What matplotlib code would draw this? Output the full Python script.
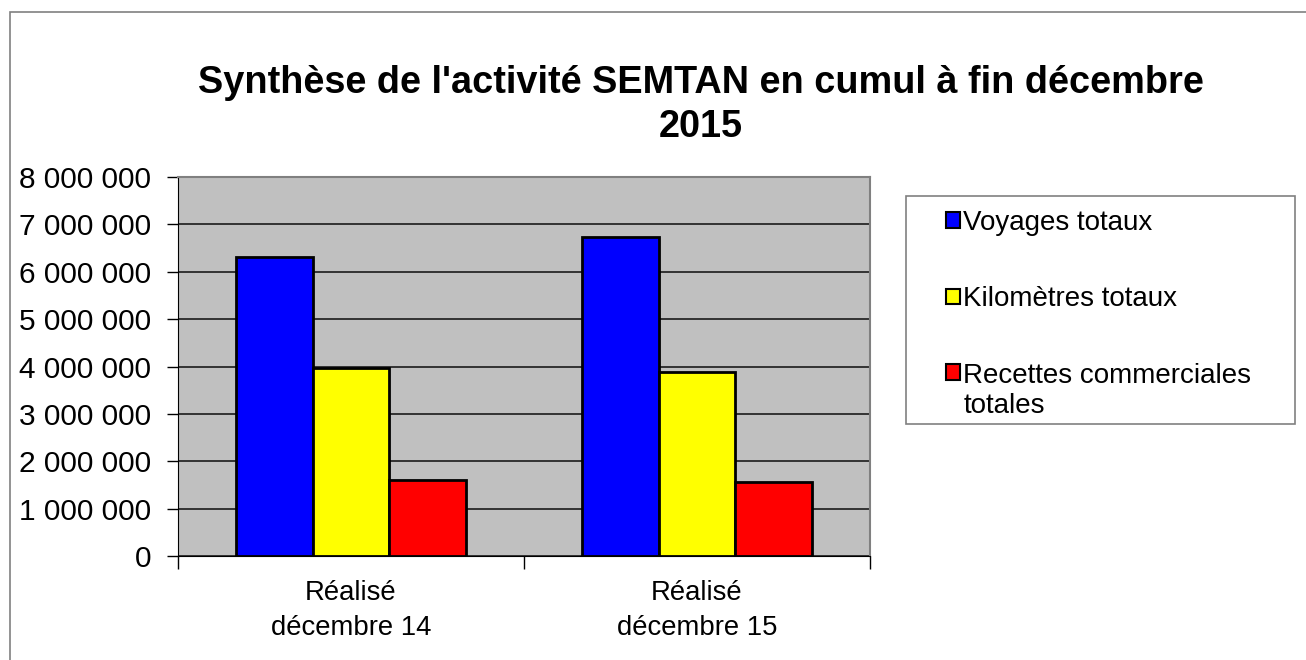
import matplotlib.pyplot as plt
import numpy as np
from matplotlib.patches import Rectangle
from matplotlib.legend_handler import HandlerPatch
from matplotlib.ticker import FuncFormatter

plt.rcParams["font.family"] = ["Liberation Sans", "DejaVu Sans"]

categories = ["Réalisé\ndécembre 14", "Réalisé\ndécembre 15"]
series_names = ["Voyages totaux", "Kilomètres totaux", "Recettes commerciales\ntotales"]
voyages = [6320000, 6730000]
kilometres = [3960000, 3890000]
recettes = [1600000, 1555000]
series_colors = ["#0000FF", "#FFFF00", "#FF0000"]

W, H = 1306, 660
fig = plt.figure(figsize=(W / 100, H / 100), dpi=100)

# outer chart frame (clipped on right/bottom like the original)
fig.patches.append(Rectangle((10 / W, -0.1), 1.2, 1 - 12 / H + 0.1,
                             transform=fig.transFigure, fill=False,
                             edgecolor="#808080", linewidth=1.2))
# legend frame
fig.patches.append(Rectangle((906 / W, 1 - 424 / H), (1295 - 906) / W, (424 - 196) / H,
                             transform=fig.transFigure, fill=False,
                             edgecolor="#808080", linewidth=1.2))

ax = fig.add_axes([178 / W, 1 - 556 / H, (870 - 178) / W, (556 - 177) / H])
ax.set_facecolor("#C0C0C0")

x = np.arange(len(categories))
width = 0.667 / 3
bars = []
for i, (vals, name, col) in enumerate(zip([voyages, kilometres, recettes],
                                          series_names, series_colors)):
    bars.append(ax.bar(x + (i - 1) * width, vals, width, color=col, edgecolor="black",
                       linewidth=2, label=name, zorder=3))

ax.set_xlim(-0.5, 1.5)
ax.set_ylim(0, 8000000)
ax.set_yticks(np.arange(0, 8000001, 1000000))
ax.yaxis.set_major_formatter(FuncFormatter(lambda v, p: f"{int(v):,}".replace(",", " ")))
ax.grid(axis="y", color="#333333", linewidth=1.4, zorder=1)

ax.set_xticks([-0.5, 0.5, 1.5])
ax.set_xticklabels([])
ax.set_xticks(x, minor=True)
ax.set_xticklabels(categories, minor=True, fontsize=19.8, linespacing=1.47)
ax.tick_params(axis="x", which="minor", length=0, pad=17)
ax.tick_params(axis="x", which="major", length=9, width=1, color="black")
ax.tick_params(axis="y", length=8, width=1, labelsize=21.5, pad=11.5)

for s in ["top", "right"]:
    ax.spines[s].set_color("#808080")
    ax.spines[s].set_linewidth(1.5)
ax.spines["left"].set_color("black")
ax.spines["bottom"].set_color("black")

fig.text(701 / W, 1 - 105 / H, "Synthèse de l'activité SEMTAN en cumul à fin décembre\n2015",
         ha="center", va="center", fontsize=27.3, fontweight="bold", linespacing=1.3)


def _top_square(legend, orig_handle, xdescent, ydescent, width, height, fontsize):
    # two-line label: keep the swatch next to the first line
    return Rectangle((-xdescent, -ydescent + 13.5), width, height)


handles = [b.patches[0] for b in bars]
leg = fig.legend(handles, series_names, loc="upper left",
                 bbox_to_anchor=(946 / W, 1 - 210 / H),
                 fontsize=20, frameon=False, handlelength=0.5, handleheight=0.47,
                 handletextpad=0.12, labelspacing=1.81, borderpad=0, borderaxespad=0,
                 handler_map={handles[2]: HandlerPatch(patch_func=_top_square)})
for h in leg.legend_handles:
    h.set_linewidth(1.5)

fig.savefig("out.png", dpi=100)
